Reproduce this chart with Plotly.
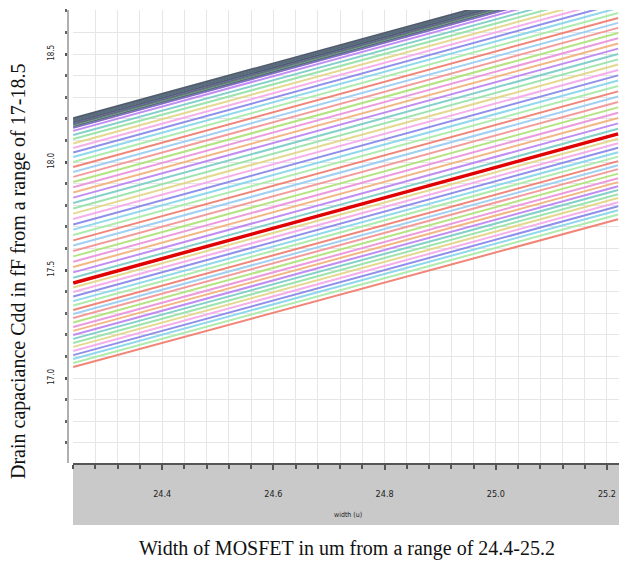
import plotly.graph_objects as go

# Width sweep end points (um)
width_um = [24.24, 25.22]

# Cdd (fF) of each swept curve at the two widths, listed bottom to top
cdd_start = [17.051, 17.069, 17.088, 17.106, 17.125, 17.144, 17.162, 17.181, 17.199, 17.218,
             17.236, 17.257, 17.278, 17.296, 17.315, 17.336, 17.356, 17.377, 17.398, 17.419,
             17.440, 17.464, 17.489, 17.514, 17.538, 17.563, 17.588, 17.613, 17.637, 17.662,
             17.687, 17.711, 17.736, 17.761, 17.785, 17.810, 17.835, 17.859, 17.883, 17.907,
             17.931, 17.954, 17.977, 18.000, 18.023, 18.044, 18.065, 18.086, 18.106, 18.125,
             18.144, 18.157, 18.164, 18.171, 18.176, 18.181, 18.185, 18.190, 18.194, 18.199,
             18.204]
cdd_end = [17.735, 17.757, 17.777, 17.795, 17.814, 17.833, 17.851, 17.870, 17.888, 17.907,
           17.925, 17.946, 17.967, 17.985, 18.004, 18.025, 18.045, 18.066, 18.087, 18.108,
           18.130, 18.154, 18.179, 18.204, 18.228, 18.253, 18.278, 18.303, 18.327, 18.352,
           18.377, 18.401, 18.426, 18.451, 18.475, 18.500, 18.525, 18.549, 18.573, 18.597,
           18.621, 18.644, 18.667, 18.690, 18.713, 18.734, 18.755, 18.776, 18.796, 18.815,
           18.834, 18.847, 18.854, 18.861, 18.866, 18.871, 18.875, 18.880, 18.884, 18.889,
           18.894]
highlight_index = 20  # the thick red curve

x_tick_vals = [24.4, 24.6, 24.8, 25.0, 25.2]
x_tick_text = ["24.4", "24.6", "24.8", "25.0", "25.2"]
y_tick_vals = [17.0, 17.5, 18.0, 18.5]
y_tick_text = ["17.0", "17.5", "18.0", "18.5"]

palette = ['#f07a6a', '#a6eaa6', '#85d4ea', '#8585ea', '#f5a8ea', '#e2d585',
           '#95e2a6', '#78cdc5', '#ba82f2', '#f2b078', '#ea92da', '#ade276',
           '#f29292', '#98ccf2']
dark_palette = ['#7a5ac8', '#4a6070', '#5a8a70', '#506070', '#7060a0', '#405a60',
                '#5a6a7a', '#486878', '#606078', '#3e5060']

fig = go.Figure()
n = len(cdd_start)
dark_from = 51
for i in range(n):
    if i == highlight_index:
        continue
    if i >= dark_from:
        col = dark_palette[(i - dark_from) % len(dark_palette)]
        w = 1.6
    else:
        col = palette[i % len(palette)]
        w = 2
    fig.add_trace(go.Scatter(x=width_um, y=[cdd_start[i], cdd_end[i]], mode='lines',
                             line=dict(color=col, width=w), opacity=0.9,
                             showlegend=False, hoverinfo='skip'))
fig.add_trace(go.Scatter(x=width_um, y=[cdd_start[highlight_index], cdd_end[highlight_index]],
                         mode='lines', line=dict(color='#e00000', width=3.5),
                         showlegend=False, hoverinfo='skip'))

W, H = 619, 566
ml, mt, mb = 68, 10, 103
pw = W - ml
ph = H - mt - mb
band_h = 62

fig.update_layout(
    width=W, height=H,
    margin=dict(l=ml, r=0, t=mt, b=mb, pad=0),
    paper_bgcolor='white', plot_bgcolor='white',
    xaxis=dict(domain=[5 / pw, 1], range=[24.2396, 25.2216],
               tickmode='array', tickvals=x_tick_vals, ticktext=x_tick_text,
               showgrid=True, gridcolor='#e6e6e6', gridwidth=1,
               minor=dict(dtick=0.04, tick0=24.4, showgrid=True, gridcolor='#e6e6e6',
                          ticks='outside', ticklen=4, tickwidth=1.5, tickcolor='#555'),
               ticks='outside', ticklen=5, tickwidth=1.5, tickcolor='#555',
               showline=True, linecolor='#555', linewidth=2,
               ticklabelstandoff=16,
               tickfont=dict(family='DejaVu Sans Condensed, DejaVu Sans', size=9, color='#222'),
               zeroline=False, fixedrange=True),
    yaxis=dict(range=[16.6065, 18.7037], anchor='free', position=0,
               tickmode='array', tickvals=y_tick_vals, ticktext=y_tick_text,
               showgrid=True, gridcolor='#e6e6e6', gridwidth=1,
               minor=dict(dtick=0.1, tick0=17.0, showgrid=True, gridcolor='#e6e6e6',
                          ticks='outside', ticklen=2, tickwidth=2.5, tickcolor='#666'),
               ticks='outside', ticklen=2, tickwidth=2.5, tickcolor='#555',
               showline=True, linecolor='#b0b0b0', linewidth=1.5,
               tickangle=-90, ticklabelstandoff=8,
               tickfont=dict(family='DejaVu Sans Condensed, DejaVu Sans', size=8, color='#222'),
               zeroline=False, fixedrange=True),
    shapes=[dict(type='rect', xref='paper', yref='paper', x0=5 / pw, x1=1,
                 y0=-band_h / ph, y1=0, fillcolor='#c9c9c9', line=dict(width=0),
                 layer='below')],
    annotations=[
        dict(text='width (u)', xref='paper', yref='paper', x=(348 - ml) / pw,
             y=(ph + mt - 515) / ph, showarrow=False, xanchor='center', yanchor='middle',
             font=dict(family='DejaVu Sans Condensed, DejaVu Sans', size=7, color='#222')),
        dict(text='Width of MOSFET in um from a range of 24.4-25.2', xref='paper', yref='paper',
             x=(347 - ml) / pw, y=(ph + mt - 548) / ph, showarrow=False,
             xanchor='center', yanchor='middle',
             font=dict(family='Liberation Serif', size=20, color='#111')),
        dict(text='Drain capaciance Cdd in fF from a range of 17-18.5', xref='paper', yref='paper',
             x=(18 - ml) / pw, y=(ph + mt - 272) / ph, showarrow=False, textangle=-90,
             xanchor='center', yanchor='middle',
             font=dict(family='Liberation Serif', size=20, color='#111')),
    ],
)

fig.write_html('out.html')
